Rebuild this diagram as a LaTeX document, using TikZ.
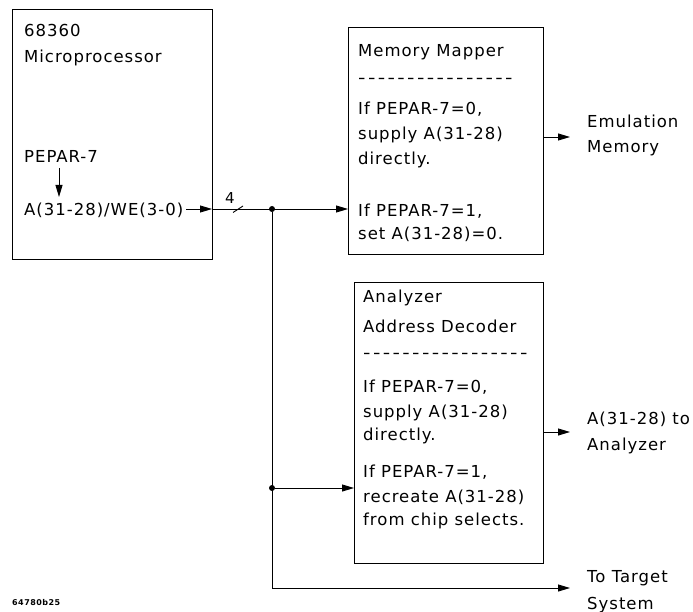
\documentclass[tikz,border=0pt]{standalone}
\usepackage{fontspec}
\setmainfont{DejaVu Sans}[LetterSpace=6]
\usetikzlibrary{arrows.meta}
\newcommand{\dashrow}[1]{\foreach \i in {1,...,#1}{\makebox[9.8pt][l]{\scalebox{1.25}[1]{-}}}}
\begin{document}
\begin{tikzpicture}[x=1pt,y=-1pt,
  box/.style={draw,line width=1pt,inner sep=0pt,outer sep=0pt},
  txt/.style={anchor=base west,inner sep=0pt,font=\fontsize{16.5}{20}\selectfont},
  arr/.style={-{Triangle[length=12pt,width=7pt]},line width=0.9pt},
  ln/.style={line width=0.9pt},
  dot/.style={circle,fill,inner sep=0pt,minimum size=6pt}]
\useasboundingbox (0,0) rectangle (693,612);
% boxes
\node[box,minimum width=200pt,minimum height=250pt] (cpu) at (112,135) {};
\node[box,minimum width=195pt,minimum height=227pt] (mem) at (445.5,141.5) {};
\node[box,minimum width=189pt,minimum height=281pt] (ana) at (448.5,422.5) {};
% cpu texts
\node[txt] (c1) at (24,37) {68360};
\node[txt] (c2) at (24,63) {Microprocessor};
\node[txt] (pep) at (24,163) {PEPAR-7};
\node[txt] (adr) at (24,216) {A(31-28)/WE(3-0)};
\coordinate (pa) at (59,168);
\coordinate (pb) at (59,197);
\draw[arr] (pa) -- (pb);
% memory mapper texts
\node[txt] (m1) at (358,57) {Memory Mapper};
\node[txt] (m2) at (358,84) {\dashrow{16}};
\node[txt] (m3) at (358,115) {If PEPAR-7=0,};
\node[txt] (m4) at (358,140) {supply A(31-28)};
\node[txt] (m5) at (358,165) {directly.};
\node[txt] (m6) at (358,217) {If PEPAR-7=1,};
\node[txt] (m7) at (358,240) {set A(31-28)=0.};
% analyzer texts
\node[txt] (a1) at (363,302) {Analyzer};
\node[txt] (a2) at (363,332) {Address Decoder};
\node[txt] (a3) at (363,358) {\dashrow{17}};
\node[txt] (a4) at (363,392) {If PEPAR-7=0,};
\node[txt] (a5) at (363,417) {supply A(31-28)};
\node[txt] (a6) at (363,440) {directly.};
\node[txt] (a7) at (363,477) {If PEPAR-7=1,};
\node[txt] (a8) at (363,502) {recreate A(31-28)};
\node[txt] (a9) at (363,525) {from chip selects.};
% outputs
\node[txt] (e1) at (587,128) {Emulation};
\node[txt] (e2) at (587,153) {Memory};
\node[txt] (z1) at (587,424) {A(31-28) to};
\node[txt] (z2) at (587,450) {Analyzer};
\node[txt] (t1) at (587,582) {To Target};
\node[txt] (t2) at (587,609) {System};
\node[anchor=west,inner sep=0pt,font=\fontsize{8}{9}\selectfont\bfseries] (id) at (12,603) {64780b25};
% connectors
\coordinate (o1) at (186,209);
\draw[arr] (o1) -- (cpu.east |- o1);
\node[dot] (j1) at (272,209) {};
\node[dot] (j2) at (272,488) {};
\coordinate (j3) at (272,588);
\draw[arr] (cpu.east |- o1) -- (mem.west |- o1);
\coordinate (sa) at (233,212.5);
\coordinate (sb) at (243,206);
\draw[ln] (sa) -- (sb);
\node[txt,font=\fontsize{15}{18}\selectfont] (four) at (225,204) {4};
\draw[ln] (j1) -- (j3);
\draw[arr] (j2) -- (ana.west |- j2);
\coordinate (tt) at (570,588);
\draw[arr] (j3) -- (tt);
\coordinate (em) at (570,137);
\draw[arr] (mem.east |- em) -- (em);
\coordinate (an) at (570,432);
\draw[arr] (ana.east |- an) -- (an);
\end{tikzpicture}
\end{document}
